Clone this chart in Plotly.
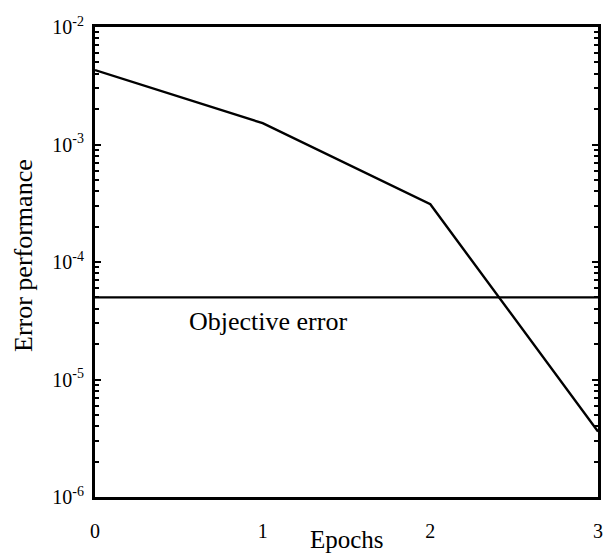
import plotly.graph_objects as go

epochs = [0, 1, 2, 3]
error_perf = [4.3e-3, 1.52e-3, 3.1e-4, 3.6e-6]
objective_error = 5e-5
ytick_vals = [1e-2, 1e-3, 1e-4, 1e-5, 1e-6]
ytick_text = ["10<sup>-2</sup>", "10<sup>-3</sup>", "10<sup>-4</sup>", "10<sup>-5</sup>", "10<sup>-6</sup>"]
ytick_minor = [m * 10.0 ** k for k in range(-6, -2) for m in range(2, 10)]
xtick_vals = [0, 1, 2, 3]

font_family = "Liberation Serif, Times New Roman, serif"

fig = go.Figure()
fig.add_trace(go.Scatter(x=epochs, y=error_perf, mode="lines",
                         line=dict(color="black", width=2.4), showlegend=False))
fig.add_trace(go.Scatter(x=[epochs[0], epochs[-1]], y=[objective_error, objective_error], mode="lines",
                         line=dict(color="black", width=2.4), showlegend=False))
# invisible trace bound to the minor-tick overlay axis
fig.add_trace(go.Scatter(x=[epochs[0]], y=[objective_error], yaxis="y2", mode="markers",
                         marker=dict(opacity=0), showlegend=False, hoverinfo="skip"))

fig.add_annotation(x=0.55, y=-4.51, xref="x", yref="y", text="Objective error",
                   showarrow=False, xanchor="left", yanchor="middle",
                   font=dict(family=font_family, size=26, color="black"))

W, H = 605, 554
ml, mr, mt, mb = 95, 7, 27, 57
pw, ph = W - ml - mr, H - mt - mb

# axis titles placed as paper annotations
fig.add_annotation(x=0.5, y=-(554 - (H - mb)) / ph, xref="paper", yref="paper",
                   text="Epochs", showarrow=False, xanchor="center", yanchor="bottom",
                   borderpad=0,
                   font=dict(family=font_family, size=25, color="black"))
fig.add_annotation(x=-(ml - 23) / pw, y=(H - mb - 256) / ph, xref="paper", yref="paper",
                   text="Error performance", showarrow=False, textangle=-90,
                   xanchor="center", yanchor="middle",
                   font=dict(family=font_family, size=26, color="black"))

fig.update_layout(
    width=W, height=H,
    margin=dict(l=ml, r=mr, t=mt, b=mb),
    paper_bgcolor="white", plot_bgcolor="white",
    font=dict(family=font_family, color="black"),
    xaxis=dict(range=[0, 3], tickvals=xtick_vals, showgrid=False, zeroline=False,
               automargin=False,
               showline=True, mirror=True, linecolor="black", linewidth=3,
               ticks="", 
               tickfont=dict(family=font_family, size=20, color="black"),
               ticklabelstandoff=14),
    yaxis=dict(type="log", range=[-6, -2], tickvals=ytick_vals, ticktext=ytick_text,
               showgrid=False, zeroline=False, automargin=False,
               showline=True, mirror="allticks", linecolor="black", linewidth=3,
               ticks="inside", ticklen=6, tickcolor="black", tickwidth=1.5,
               tickfont=dict(family=font_family, size=20, color="black"),
               ticklabelstandoff=4),
    yaxis2=dict(type="log", range=[-6, -2], overlaying="y", side="left",
                tickvals=ytick_minor, showticklabels=False,
                showgrid=False, zeroline=False, automargin=False,
                showline=False, mirror="allticks",
                ticks="inside", ticklen=4, tickcolor="black", tickwidth=1.5),
)

fig.write_html("out.html")
